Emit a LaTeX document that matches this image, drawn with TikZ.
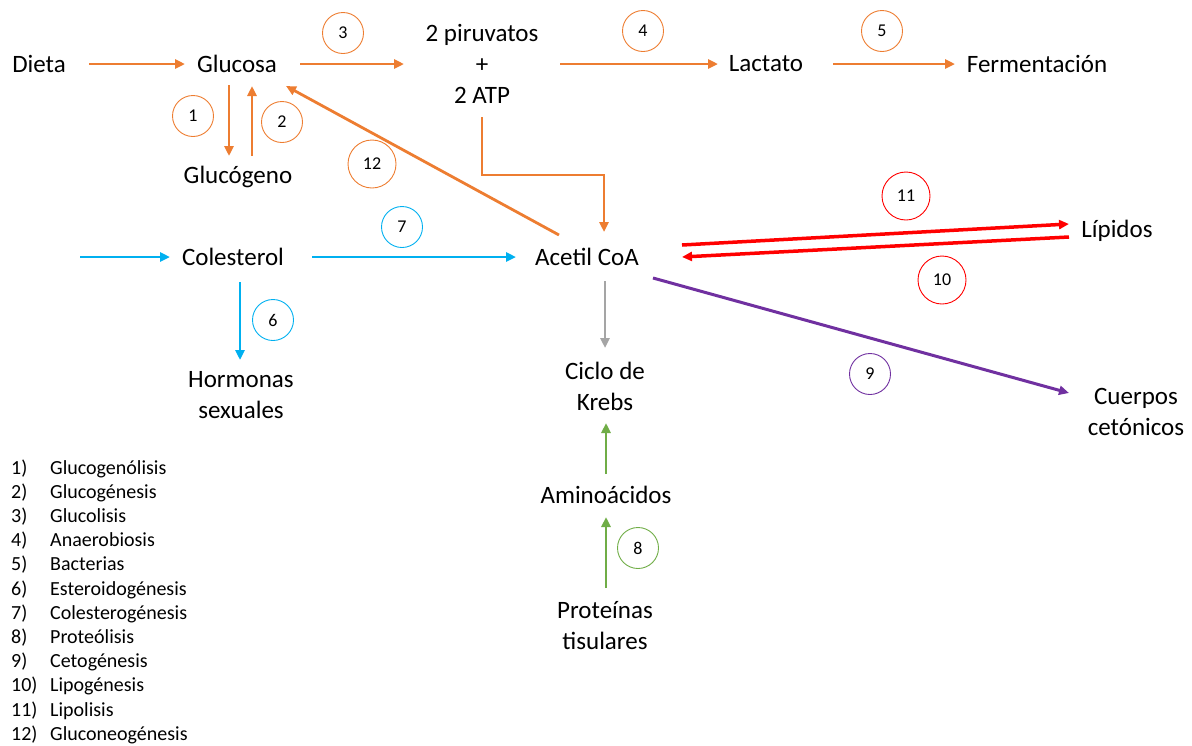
\documentclass[tikz,border=0pt]{standalone}
\usepackage{fontspec}
\setmainfont{Carlito}
\usetikzlibrary{arrows.meta}
\definecolor{naranja}{RGB}{237,125,49}
\definecolor{celeste}{RGB}{0,176,240}
\definecolor{rojo}{RGB}{255,0,0}
\definecolor{morado}{RGB}{112,48,160}
\definecolor{verde}{RGB}{112,173,71}
\definecolor{gris}{RGB}{165,165,165}

\begin{document}
\begin{tikzpicture}[x=1pt,y=-1pt,
    txt/.style={font=\fontsize{25}{31}\selectfont, inner sep=0pt, align=center},
    flecha/.style={line width=2.8pt, -{Triangle[length=10pt,width=9pt]}},
    num/.style={circle, draw=#1, line width=0.9pt, minimum size=41pt, inner sep=0pt, font=\fontsize{18}{18}\selectfont},
    numg/.style={num=#1, minimum size=48pt}]
    \useasboundingbox (0,0) rectangle (1192,745);

    % sustancias
    \node[txt] (dieta) at (39,64) {Dieta};
    \node[txt] (glucosa) at (237,64) {Glucosa};
    \node[txt] (piruvatos) at (482,64) {2 piruvatos\\+\\2 ATP};
    \node[txt] (lactato) at (766,64) {Lactato};
    \node[txt] (fermentacion) at (1037,64) {Fermentación};
    \node[txt] (glucogeno) at (238,177) {Glucógeno};
    \node[txt] (colesterol) at (233,257) {Colesterol};
    \node[txt] (acetil) at (587,257) {Acetil CoA};
    \node[txt] (lipidos) at (1117,231) {Lípidos};
    \node[txt] (hormonas) at (241,395) {Hormonas\\sexuales};
    \node[txt] (krebs) at (605,386) {Ciclo de\\Krebs};
    \node[txt] (cuerpos) at (1136,412) {Cuerpos\\cetónicos};
    \node[txt] (aminoacidos) at (606,495) {Aminoácidos};
    \node[txt] (proteinas) at (605,626) {Proteínas\\tisulares};
    \coordinate (entrada) at (80,257);

    % flechas naranjas
    \draw[flecha, naranja] ([shift={(50,0)}]dieta.center) -- ([shift={(-52,0)}]glucosa.center);
    \draw[flecha, naranja] ([shift={(63,0)}]glucosa.center) -- ([shift={(-78,0)}]piruvatos.center);
    \draw[flecha, naranja] ([shift={(78,0)}]piruvatos.center) -- ([shift={(-48,0)}]lactato.center);
    \draw[flecha, naranja] ([shift={(67,0)}]lactato.center) -- ([shift={(-82,0)}]fermentacion.center);
    \draw[flecha, naranja] ([shift={(-8,21)}]glucosa.center) -- ([shift={(-9,-21)}]glucogeno.center);
    \draw[flecha, naranja] ([shift={(14,-21)}]glucogeno.center) -- ([shift={(15,22)}]glucosa.center);
    \draw[flecha, naranja] ([shift={(-28,-22)}]acetil.center) -- ([shift={(49,22)}]glucosa.center);
    \draw[flecha, naranja] ([shift={(0,53)}]piruvatos.center) |- ([shift={(17,-82)}]acetil.center) -- ([shift={(17,-25)}]acetil.center);

    % flechas celestes
    \draw[flecha, celeste] (entrada) -- ([shift={(-63,0)}]colesterol.center);
    \draw[flecha, celeste] ([shift={(79,0)}]colesterol.center) -- ([shift={(-71,0)}]acetil.center);
    \draw[flecha, celeste] ([shift={(7,25)}]colesterol.center) -- ([shift={(-1,-35)}]hormonas.center);

    % resto
    \draw[flecha, gris] ([shift={(18,24)}]acetil.center) -- ([shift={(0,-38)}]krebs.center);
    \draw[flecha, verde] ([shift={(0,-21)}]aminoacidos.center) -- ([shift={(1,37)}]krebs.center);
    \draw[flecha, verde] ([shift={(1,-38)}]proteinas.center) -- ([shift={(0,22)}]aminoacidos.center);
    \draw[flecha, rojo, line width=3.5pt] ([shift={(95,-12)}]acetil.center) -- ([shift={(-48,-7)}]lipidos.center);
    \draw[flecha, rojo, line width=3.5pt] ([shift={(-48,6)}]lipidos.center) -- ([shift={(95,0)}]acetil.center);
    \draw[flecha, morado, line width=3pt] ([shift={(66,21)}]acetil.center) -- ([shift={(-67,-19)}]cuerpos.center);

    % numeros
    \node[num=naranja] (n1) at (193,116) {1};
    \node[num=naranja] (n2) at (282,122) {2};
    \node[num=naranja] (n3) at (343,33) {3};
    \node[num=naranja] (n4) at (643,31) {4};
    \node[num=naranja] (n5) at (882,31) {5};
    \node[num=celeste] (n6) at (273,320) {6};
    \node[num=celeste] (n7) at (402,227) {7};
    \node[num=verde] (n8) at (638,548) {8};
    \node[num=morado] (n9) at (870,374) {9};
    \node[numg=rojo] (n10) at (942,280) {10};
    \node[numg=rojo] (n11) at (906,196) {11};
    \node[numg=naranja] (n12) at (372,164) {12};

    % leyenda
    \node[anchor=base west, inner sep=0pt, font=\fontsize{20}{24.2}\selectfont] (leyenda) at (11,474) {%
        \begin{tabular}[t]{@{}p{39pt}@{}l@{}}
            1) & Glucogenólisis\\
            2) & Glucogénesis\\
            3) & Glucolisis\\
            4) & Anaerobiosis\\
            5) & Bacterias\\
            6) & Esteroidogénesis\\
            7) & Colesterogénesis\\
            8) & Proteólisis\\
            9) & Cetogénesis\\
            10) & Lipogénesis\\
            11) & Lipolisis\\
            12) & Gluconeogénesis
        \end{tabular}};
\end{tikzpicture}
\end{document}
